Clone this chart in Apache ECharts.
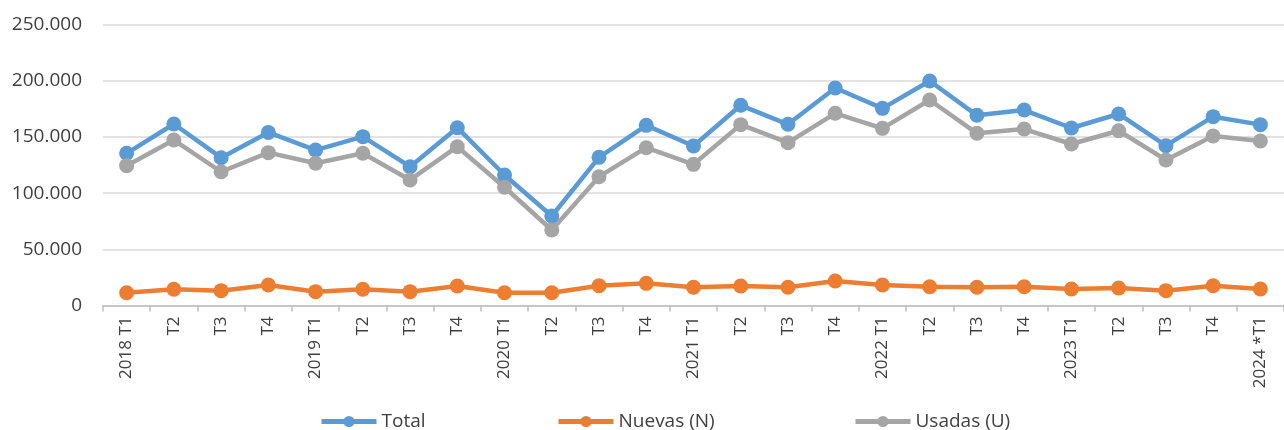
<!DOCTYPE html>
<html>
<head>
<meta charset="utf-8">
<script src="https://cdn.jsdelivr.net/npm/echarts@6/dist/echarts.min.js"></script>
<style>
  html, body { margin: 0; padding: 0; background: #fff; }
  #chart { width: 1284px; height: 430px; }
</style>
</head>
<body>
<div id="chart"></div>
<script>
const periods = ['2018 T1', 'T2', 'T3', 'T4', '2019 T1', 'T2', 'T3', 'T4', '2020 T1', 'T2', 'T3', 'T4',
  '2021 T1', 'T2', 'T3', 'T4', '2022 T1', 'T2', 'T3', 'T4', '2023 T1', 'T2', 'T3', 'T4', '2024 *T1']
const total = [135400, 161500, 131500, 154000, 138300, 150200, 123500, 158200, 116100, 79600, 131800, 160300,
  141900, 178100, 161200, 193500, 175400, 199700, 169200, 173900, 157900, 170400, 142200, 168000, 160900]
const nuevas = [11400, 14400, 13200, 18200, 12300, 14400, 12300, 17300, 11400, 11400, 17600, 19700,
  16200, 17300, 16200, 21800, 18200, 16700, 16200, 16700, 14700, 15600, 13200, 17600, 14700]
const usadas = [124400, 147200, 119000, 136000, 126500, 135400, 111700, 141300, 105200, 67200, 114600, 140400,
  125600, 160900, 144900, 171000, 157600, 182800, 153200, 157000, 143700, 155500, 129500, 150800, 146400]
const seriesNames = ['Total', 'Nuevas (N)', 'Usadas (U)']
const colors = ['#5b9bd5', '#ed7d31', '#a5a5a5']
const legendLeft = [319, 556, 853]

const fontFamily = '"Open Sans", "Noto Sans", sans-serif'

function fmt(v) {
  return String(v).replace(/\B(?=(\d{3})+(?!\d))/g, '.')
}

function lineSeries(name, data, color) {
  return {
    name: name,
    type: 'line',
    data: data,
    symbol: 'circle',
    symbolSize: 15,
    showSymbol: true,
    lineStyle: { width: 4.5, color: color },
    itemStyle: { color: color },
  }
}

// one legend per item so spacing can follow the original
const legends = seriesNames.map((name, i) => ({
  left: legendLeft[i],
  top: 412,
  padding: 0,
  itemWidth: 55,
  itemHeight: 14,
  lineStyle: { width: 5 },
  textStyle: { fontSize: 19, color: '#404040', fontFamily: fontFamily },
  data: [name],
}))

const chart = echarts.init(document.getElementById('chart'), null, { renderer: 'canvas' })
chart.setOption({
  animation: false,
  color: colors,
  textStyle: { fontFamily: fontFamily },
  grid: {
    left: 103,
    right: -8,
    top: 24.5,
    bottom: 124.5,
    containLabel: false,
  },
  legend: legends,
  xAxis: {
    type: 'category',
    data: periods,
    boundaryGap: true,
    axisLine: { show: true, lineStyle: { color: '#bfbfbf', width: 1.5 } },
    axisTick: { show: true, length: 6, alignWithLabel: false, lineStyle: { color: '#bfbfbf', width: 1.5 } },
    axisLabel: {
      interval: 0,
      rotate: 90,
      margin: 11,
      fontSize: 17,
      color: '#404040',
    },
  },
  yAxis: {
    type: 'value',
    min: 0,
    max: 250000,
    interval: 50000,
    axisLine: { show: false },
    axisTick: { show: false },
    splitLine: { lineStyle: { color: '#d9d9d9', width: 1.5 } },
    axisLabel: {
      margin: 21,
      fontSize: 19,
      color: '#404040',
      formatter: fmt,
    },
  },
  series: [
    lineSeries(seriesNames[0], total, colors[0]),
    lineSeries(seriesNames[1], nuevas, colors[1]),
    lineSeries(seriesNames[2], usadas, colors[2]),
  ],
})
</script>
</body>
</html>
